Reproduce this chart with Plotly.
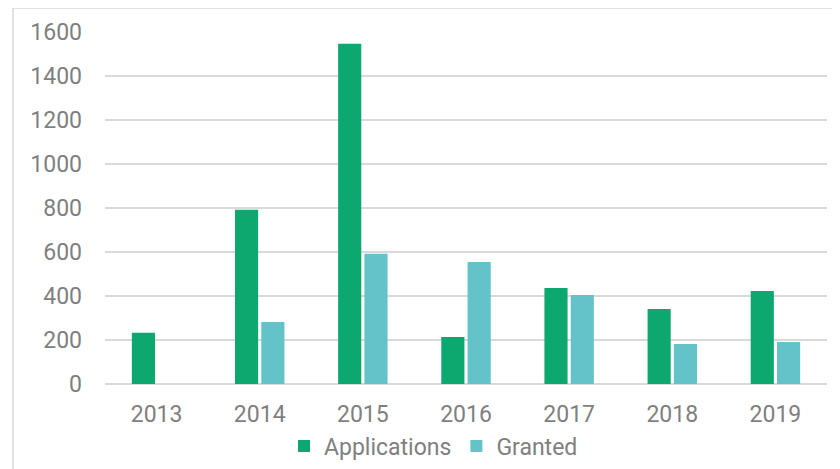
import plotly.graph_objects as go

years = ["2013", "2014", "2015", "2016", "2017", "2018", "2019"]
applications = [233, 792, 1547, 214, 436, 341, 423]
granted = [0, 282, 592, 555, 404, 182, 191]
y_ticks = [0, 200, 400, 600, 800, 1000, 1200, 1400, 1600]

GREEN = "#0ca870"
TEAL = "#64c3c8"
GRID = "#d9d9d9"
TEXT = "#7f7f7f"

fig = go.Figure()
fig.add_trace(go.Bar(x=years, y=applications, name="Applications", marker=dict(color=GREEN, line=dict(width=0))))
fig.add_trace(go.Bar(x=years, y=granted, name="Granted", marker=dict(color=TEAL, line=dict(width=0))))

fig.update_layout(
    width=832, height=461,
    margin=dict(l=97, r=13, t=24, b=85, autoexpand=False),
    paper_bgcolor="white", plot_bgcolor="white",
    barmode="group", bargap=0.49, bargroupgap=0.12,
    font=dict(family="Roboto", size=23, color=TEXT),
    showlegend=True,
    legend=dict(orientation="h", x=0.455, xanchor="center", y=(384 - 446) / 352, yanchor="middle",
                font=dict(size=23, color=TEXT), itemwidth=30, traceorder="normal"),
    shapes=[dict(type="rect", xref="paper", yref="paper",
                 x0=(13 - 105) / 722, x1=1.2, y0=-0.6, y1=1 + (32 - 8) / 352,
                 line=dict(color=GRID, width=1.5), layer="below")],
)
fig.update_xaxes(showgrid=False, showline=False, ticks="", automargin=False,
                 tickfont=dict(size=23, color=TEXT), ticklabelstandoff=14)
fig.update_yaxes(range=[0, 1600], tickvals=y_ticks, showgrid=True, gridcolor=GRID, gridwidth=2,
                 zeroline=True, zerolinecolor=GRID, zerolinewidth=2, showline=False, ticks="", automargin=False,
                 tickfont=dict(size=23, color=TEXT), ticklabelstandoff=22)

fig.write_html("out.html")
